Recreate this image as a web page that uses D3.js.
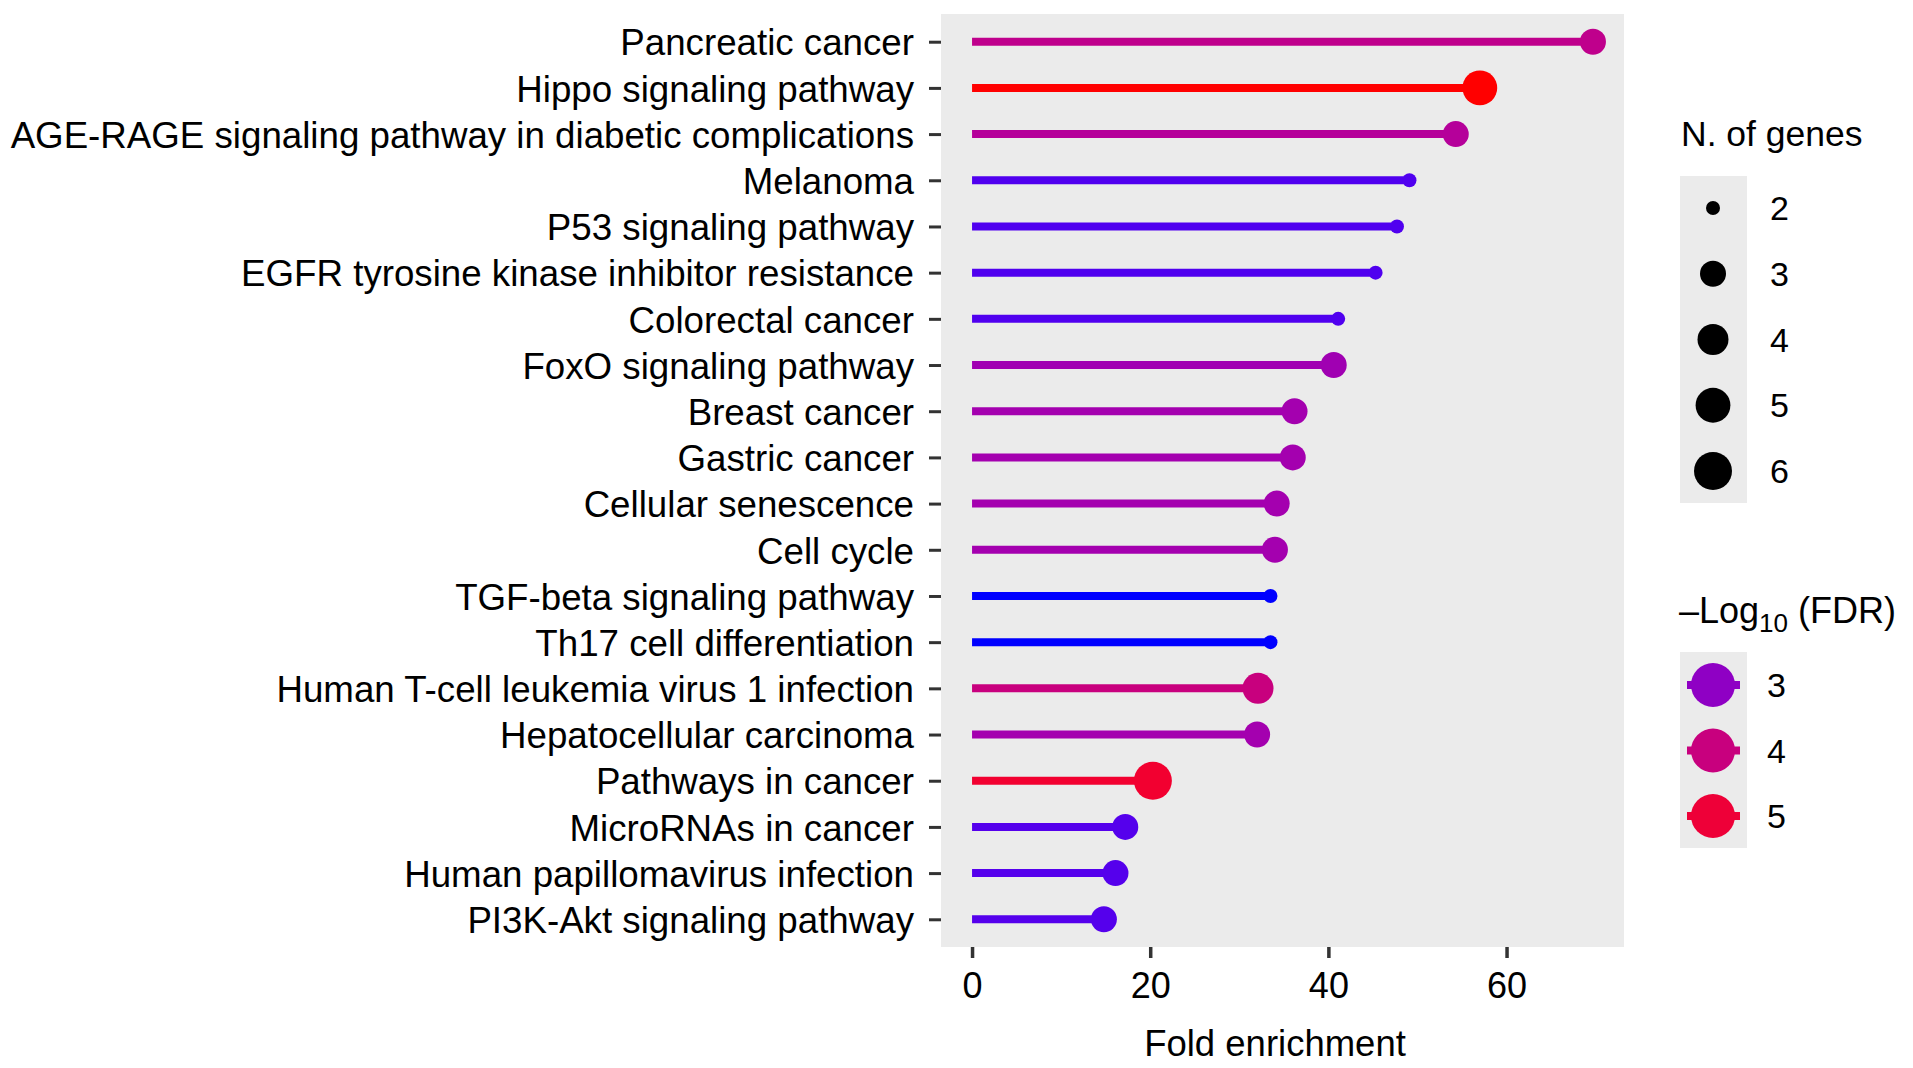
<!DOCTYPE html>
<html>
<head>
<meta charset="utf-8">
<script src="https://cdn.jsdelivr.net/npm/d3@7"></script>
<style>
  html, body { margin: 0; padding: 0; background: #ffffff; }
  text { font-family: "Liberation Sans", Arial, Helvetica, sans-serif; fill: #000; }
</style>
</head>
<body>
<svg id="chart" width="1913" height="1068"></svg>
<script>
// ---- Data ----
const categories = [
  "Pancreatic cancer",
  "Hippo signaling pathway",
  "AGE-RAGE signaling pathway in diabetic complications",
  "Melanoma",
  "P53 signaling pathway",
  "EGFR tyrosine kinase inhibitor resistance",
  "Colorectal cancer",
  "FoxO signaling pathway",
  "Breast cancer",
  "Gastric cancer",
  "Cellular senescence",
  "Cell cycle",
  "TGF-beta signaling pathway",
  "Th17 cell differentiation",
  "Human T-cell leukemia virus 1 infection",
  "Hepatocellular carcinoma",
  "Pathways in cancer",
  "MicroRNAs in cancer",
  "Human papillomavirus infection",
  "PI3K-Akt signaling pathway"
];
const foldEnrichment = [69.7, 57.0, 54.3, 49.1, 47.7, 45.3, 41.1, 40.6, 36.2, 36.0, 34.2, 34.0, 33.5, 33.5, 32.1, 32.0, 20.3, 17.2, 16.1, 14.8];
const geneCounts     = [3, 5, 3, 2, 2, 2, 2, 3, 3, 3, 3, 3, 2, 2, 4, 3, 6, 3, 3, 3];
const negLog10FDR    = [3.8, 5.5, 3.6, 2.42, 2.42, 2.42, 2.42, 3.25, 3.3, 3.3, 3.3, 3.3, 2.2, 2.2, 4.0, 3.3, 5.1, 2.45, 2.45, 2.45];
const xTicks = [0, 20, 40, 60];
const sizeLegendValues = [2, 3, 4, 5, 6];
const colorLegendValues = [3, 4, 5];

const rows = categories.map((c, i) => ({
  name: c, fe: foldEnrichment[i], n: geneCounts[i], fdr: negLog10FDR[i]
}));

// ---- Layout ----
const panel = { left: 941, right: 1624, top: 14, bottom: 947 };
const svg = d3.select("#chart");

const maxFE = d3.max(foldEnrichment);
const x = d3.scaleLinear()
  .domain([-0.05 * maxFE, 1.05 * maxFE])
  .range([panel.left, panel.right]);
const y = d3.scalePoint()
  .domain(categories)
  .range([panel.top, panel.bottom])
  .padding(0.6);

const sizeMin = 2, sizeMax = 6;
const rScale = d3.scaleSqrt().domain([0, sizeMax - sizeMin]).range([0, 12]);
const radius = v => 7 + rScale(v - sizeMin);

const color = d3.scaleLinear()
  .domain([d3.min(negLog10FDR), d3.max(negLog10FDR)])
  .range(["#0000ff", "#ff0000"])
  .interpolate(d3.interpolateLab);

// Panel background
svg.append("rect")
  .attr("x", panel.left).attr("y", panel.top)
  .attr("width", panel.right - panel.left)
  .attr("height", panel.bottom - panel.top)
  .attr("fill", "#ebebeb");

// Lollipop stems
svg.append("g").selectAll("line").data(rows).join("line")
  .attr("x1", x(0)).attr("x2", d => x(d.fe))
  .attr("y1", d => y(d.name)).attr("y2", d => y(d.name))
  .attr("stroke", d => color(d.fdr))
  .attr("stroke-width", 8);

// Points
svg.append("g").selectAll("circle").data(rows).join("circle")
  .attr("cx", d => x(d.fe)).attr("cy", d => y(d.name))
  .attr("r", d => radius(d.n))
  .attr("fill", d => color(d.fdr));

// Y axis
const yAxis = svg.append("g")
  .attr("transform", `translate(${panel.left},0)`)
  .call(d3.axisLeft(y).tickSize(12).tickPadding(15));
yAxis.select(".domain").remove();
yAxis.selectAll(".tick line").attr("stroke", "#333").attr("stroke-width", 3);
yAxis.selectAll(".tick text")
  .attr("font-size", 36.7)
  .attr("fill", "#000")
  .attr("dy", "0.36em")
  .style("font-family", "'Liberation Sans', Arial, sans-serif");

// X axis
const xAxis = svg.append("g")
  .attr("transform", `translate(0,${panel.bottom})`)
  .call(d3.axisBottom(x).tickValues(xTicks).tickSize(11).tickPadding(14));
xAxis.select(".domain").remove();
xAxis.selectAll(".tick line").attr("stroke", "#333").attr("stroke-width", 3.5);
xAxis.selectAll(".tick text")
  .attr("font-size", 36)
  .attr("fill", "#000")
  .style("font-family", "'Liberation Sans', Arial, sans-serif");

// X axis title
svg.append("text")
  .attr("x", 1275)
  .attr("y", 1056)
  .attr("text-anchor", "middle")
  .attr("font-size", 36.5)
  .text("Fold enrichment");

// ---- Size legend ----
const sizeLeg = svg.append("g");
sizeLeg.append("text")
  .attr("x", 1681).attr("y", 146)
  .attr("font-size", 35.5)
  .text("N. of genes");
sizeLeg.append("rect")
  .attr("x", 1680).attr("y", 176)
  .attr("width", 67).attr("height", 327)
  .attr("fill", "#ebebeb");
const sizeKeyY = d3.scalePoint().domain(sizeLegendValues).range([208, 471]);
sizeLeg.selectAll("circle").data(sizeLegendValues).join("circle")
  .attr("cx", 1713).attr("cy", d => sizeKeyY(d))
  .attr("r", d => radius(d))
  .attr("fill", "#000");
sizeLeg.selectAll("text.lab").data(sizeLegendValues).join("text")
  .attr("class", "lab")
  .attr("x", 1770).attr("y", d => sizeKeyY(d) + 12)
  .attr("font-size", 34)
  .text(d => d);

// ---- Color legend ----
const colLeg = svg.append("g");
const title = colLeg.append("text")
  .attr("x", 1679).attr("y", 623)
  .attr("font-size", 36);
title.append("tspan").text("\u2013Log");
title.append("tspan").attr("font-size", 26).attr("dy", 9).text("10");
title.append("tspan").attr("dy", -9).text(" (FDR)");
colLeg.append("rect")
  .attr("x", 1680).attr("y", 652)
  .attr("width", 67).attr("height", 196)
  .attr("fill", "#ebebeb");
const colKeyY = d3.scalePoint().domain(colorLegendValues).range([685, 816]);
colLeg.selectAll("line").data(colorLegendValues).join("line")
  .attr("x1", 1687).attr("x2", 1740)
  .attr("y1", d => colKeyY(d)).attr("y2", d => colKeyY(d))
  .attr("stroke", d => color(d)).attr("stroke-width", 8);
colLeg.selectAll("circle").data(colorLegendValues).join("circle")
  .attr("cx", 1713).attr("cy", d => colKeyY(d))
  .attr("r", 22)
  .attr("fill", d => color(d));
colLeg.selectAll("text.lab").data(colorLegendValues).join("text")
  .attr("class", "lab")
  .attr("x", 1767).attr("y", d => colKeyY(d) + 12)
  .attr("font-size", 34)
  .text(d => d);
</script>
</body>
</html>
